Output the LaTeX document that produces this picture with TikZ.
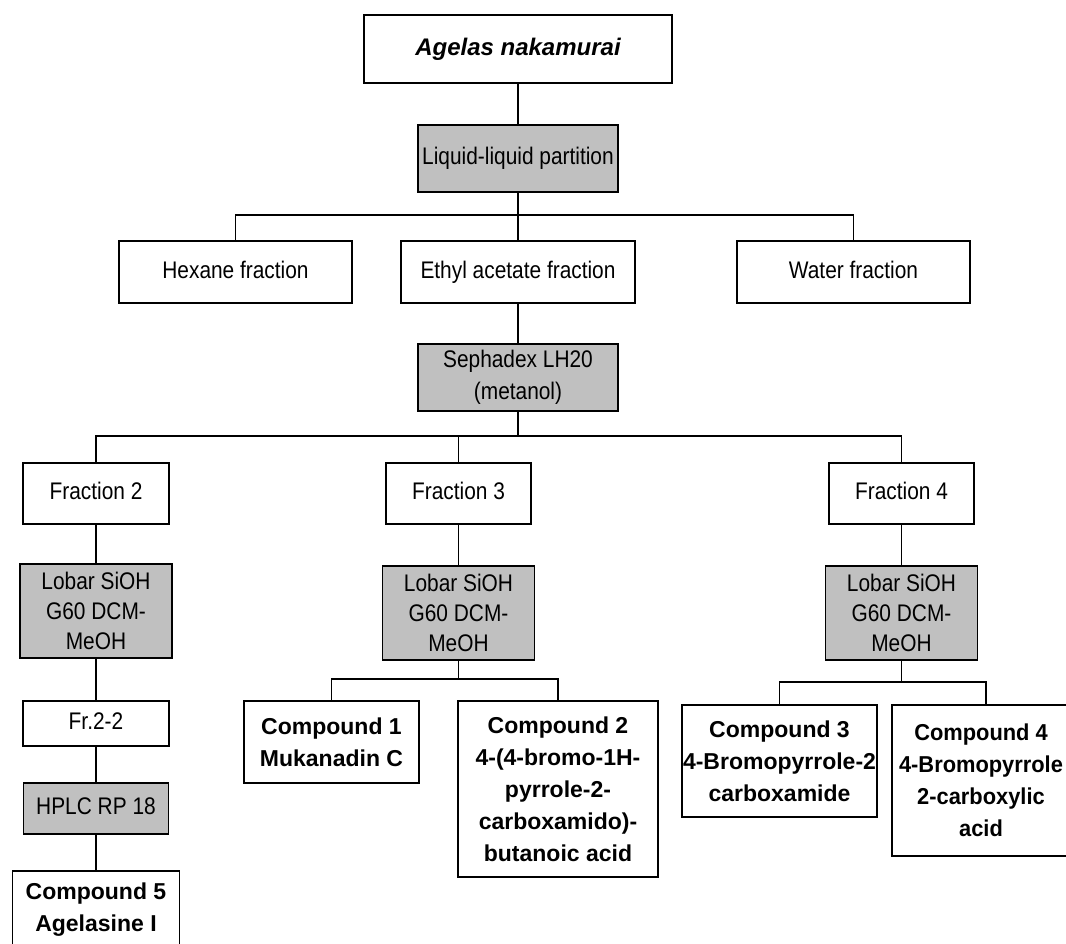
\documentclass[tikz,border=0pt]{standalone}
\usepackage{fontspec}
\setmainfont{Liberation Sans}
\newfontfamily\bodyfont{Liberation Sans}[FakeStretch=0.87]
\newfontfamily\headfont{Liberation Sans}
\newfontfamily\narrowhead{Liberation Sans}[FakeStretch=0.95]
\definecolor{stepgray}{RGB}{192,192,192}
\begin{document}
\begin{tikzpicture}[x=1pt,y=-1pt,
  box/.style={draw=black,line width=1.6pt,fill=white,inner sep=0pt,align=center,
    font=\bodyfont\fontsize{24}{31}\selectfont},
  oneline/.style={text height=17pt,text depth=5pt},
  method/.style={box,fill=stepgray},
  result/.style={box,font=\headfont\bfseries\fontsize{23}{32}\selectfont},
  link/.style={line width=1.4pt,draw=black}]
\useasboundingbox (0,0) rectangle (1066,943);
\clip (0,0) rectangle (1066,943);

% source organism and first partition
\node[box,oneline,minimum width=308pt,minimum height=68pt,font=\headfont\bfseries\itshape\fontsize{24}{28}\selectfont] (src) at (518,49) {Agelas nakamurai};
\node[method,oneline,minimum width=200pt,minimum height=67pt] (liq) at (518,158.5) {Liquid-liquid partition};

% partition fractions
\node[box,oneline,minimum width=233pt,minimum height=62pt] (hex) at (235.5,272) {Hexane fraction};
\node[box,oneline,minimum width=234pt,minimum height=62pt] (eth) at (518,272) {Ethyl acetate fraction};
\node[box,oneline,minimum width=233pt,minimum height=62pt] (wat) at (853.5,272) {Water fraction};

% size exclusion step
\node[method,minimum width=200pt,minimum height=67pt,font=\bodyfont\fontsize{24}{32}\selectfont] (seph) at (518,377.5) {Sephadex LH20\\(metanol)};

% Sephadex fractions
\node[box,oneline,minimum width=146pt,minimum height=61pt] (fr2) at (96,493.5) {Fraction 2};
\node[box,oneline,minimum width=145pt,minimum height=61pt] (fr3) at (458.5,493.5) {Fraction 3};
\node[box,oneline,minimum width=145pt,minimum height=61pt] (fr4) at (901.5,493.5) {Fraction 4};

% Lobar columns
\node[method,minimum width=152pt,minimum height=94pt,font=\bodyfont\fontsize{24}{30}\selectfont] (lob2) at (96,611) {Lobar SiOH\\G60 DCM-\\MeOH};
\node[method,minimum width=152pt,minimum height=94pt,font=\bodyfont\fontsize{24}{30}\selectfont] (lob3) at (458.5,613) {Lobar SiOH\\G60 DCM-\\MeOH};
\node[method,minimum width=152pt,minimum height=94pt,font=\bodyfont\fontsize{24}{30}\selectfont] (lob4) at (901.5,613) {Lobar SiOH\\G60 DCM-\\MeOH};

% fraction 2 branch
\node[box,oneline,minimum width=146pt,minimum height=45pt] (fr22) at (96,723.5) {Fr.2-2};
\node[method,oneline,minimum width=145pt,minimum height=51pt] (hplc) at (96,808.5) {HPLC RP 18};
\node[result,minimum width=167pt,minimum height=77pt] (c5) at (96,909.5) {Compound 5\\Agelasine I};

% isolated compounds
\node[result,minimum width=175pt,minimum height=82pt] (c1) at (331.5,742) {Compound 1\\Mukanadin C};
\node[result,minimum width=200pt,minimum height=176pt] (c2) at (558,789) {Compound 2\\4-(4-bromo-1H-\\pyrrole-2-\\carboxamido)-\\butanoic acid};
\node[result,minimum width=195pt,minimum height=112pt] (c3) at (779.5,761) {Compound 3\\4-Bromopyrrole-2\\carboxamide};
\node[result,minimum width=178pt,minimum height=151pt,font=\narrowhead\bfseries\fontsize{23}{32}\selectfont] (c4) at (981,780.5) {Compound 4\\4-Bromopyrrole\\2-carboxylic\\acid};

% junction points
\coordinate (j1) at (518,215);
\coordinate (j2) at (518,436);
\coordinate (j3) at (458.5,679);
\coordinate (j4) at (901.5,682);

% connectors
\draw[link] (src.south) -- (liq.north);
\draw[link] (liq.south) -- (j1);
\draw[link] (hex.north) |- (j1) -| (wat.north);
\draw[link] (j1) -- (eth.north);
\draw[link] (eth.south) -- (seph.north);
\draw[link] (seph.south) -- (j2);
\draw[link] (fr2.north) |- (j2) -| (fr4.north);
\draw[link] (fr3.north) -- (fr3.north |- j2);
\draw[link] (fr2.south) -- (lob2.north);
\draw[link] (lob2.south) -- (fr22.north);
\draw[link] (fr22.south) -- (hplc.north);
\draw[link] (hplc.south) -- (c5.north);
\draw[link] (fr3.south) -- (lob3.north);
\draw[link] (lob3.south) -- (j3);
\draw[link] (c1.north) |- (j3) -| (c2.north);
\draw[link] (fr4.south) -- (lob4.north);
\draw[link] (lob4.south) -- (j4);
\draw[link] (c3.north) |- (j4) -| ([xshift=5pt]c4.north);
\end{tikzpicture}
\end{document}
